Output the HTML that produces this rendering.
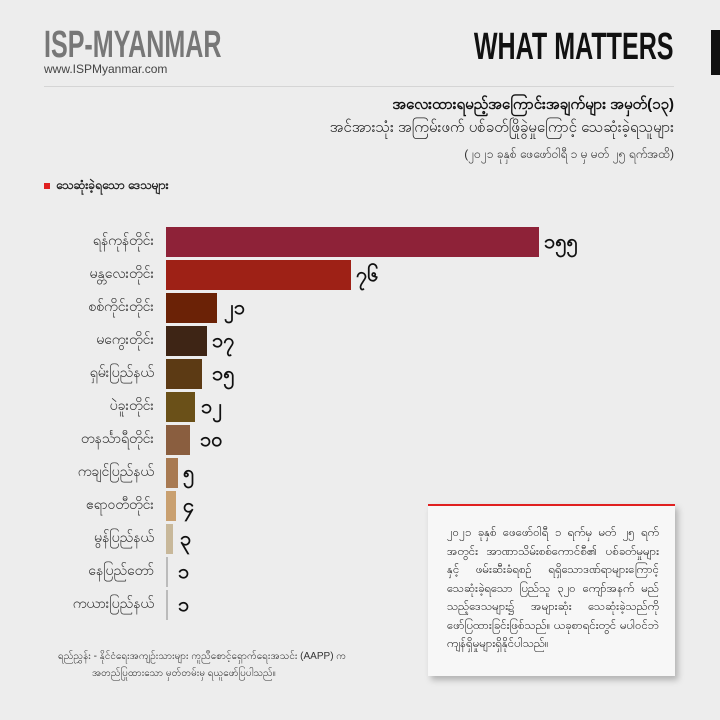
<!DOCTYPE html>
<html><head><meta charset="utf-8"><style>
body{margin:0;width:720px;height:720px;background:#ededed;position:relative;overflow:hidden;font-family:"Liberation Sans","Noto Sans CJK SC",sans-serif;color:#222}
.a{position:absolute}
.lbl{position:absolute;right:566px;font-size:14px;color:#333;text-align:right;white-space:nowrap}
.bar{position:absolute;left:166px;height:30px}
.val{position:absolute;font-size:20px;font-weight:bold;color:#111}
</style></head><body>
<div class="a" style="left:44px;top:24px;font-size:38px;font-weight:bold;color:#777;transform:scaleX(0.66);transform-origin:left">ISP-MYANMAR</div>
<div class="a" style="left:44px;top:62px;font-size:12px;color:#444">www.ISPMyanmar.com</div>
<div class="a" style="right:46px;top:26px;font-size:38px;font-weight:bold;color:#111;transform:scaleX(0.66);transform-origin:right">WHAT MATTERS</div>
<div class="a" style="left:711px;top:30px;width:9px;height:45px;background:#111"></div>
<div class="a" style="left:44px;top:86px;width:630px;height:1px;background:#d5d5d5"></div>
<div class="a" style="right:46px;top:95px;font-size:15px;font-weight:bold;color:#111">အလေးထားရမည့်အကြောင်းအချက်များ အမှတ်(၁၃)</div>
<div class="a" style="right:46px;top:118px;font-size:15px;color:#222">အင်အားသုံး အကြမ်းဖက် ပစ်ခတ်ဖြိုခွဲမှုကြောင့် သေဆုံးခဲ့ရသူများ</div>
<div class="a" style="right:46px;top:146px;font-size:12px;color:#333">(၂၀၂၁ ခုနှစ် ဖေဖော်ဝါရီ ၁ မှ မတ် ၂၅ ရက်အထိ)</div>
<div class="a" style="left:44px;top:183px;width:6px;height:6px;background:#e02020"></div>
<div class="a" style="left:56px;top:177px;font-size:12px;font-weight:bold">သေဆုံးခဲ့ရသော ဒေသများ</div>

<div class="lbl" style="top:231px">ရန်ကုန်တိုင်း</div><div class="bar" style="top:227px;width:373px;background:#8e2238"></div><div class="val" style="left:544px;top:228px">၁၅၅</div>
<div class="lbl" style="top:264px">မန္တလေးတိုင်း</div><div class="bar" style="top:260px;width:185px;background:#9e2116"></div><div class="val" style="left:356px;top:261px">၇၆</div>
<div class="lbl" style="top:297px">စစ်ကိုင်းတိုင်း</div><div class="bar" style="top:293px;width:51px;background:#6b2206"></div><div class="val" style="left:224px;top:294px">၂၁</div>
<div class="lbl" style="top:330px">မကွေးတိုင်း</div><div class="bar" style="top:326px;width:41px;background:#3e2515"></div><div class="val" style="left:212px;top:327px">၁၇</div>
<div class="lbl" style="top:363px">ရှမ်းပြည်နယ်</div><div class="bar" style="top:359px;width:36px;background:#5c3a14"></div><div class="val" style="left:212px;top:360px">၁၅</div>
<div class="lbl" style="top:396px">ပဲခူးတိုင်း</div><div class="bar" style="top:392px;width:29px;background:#6a5018"></div><div class="val" style="left:201px;top:393px">၁၂</div>
<div class="lbl" style="top:429px">တနင်္သာရီတိုင်း</div><div class="bar" style="top:425px;width:24px;background:#8a5e3f"></div><div class="val" style="left:200px;top:426px">၁၀</div>
<div class="lbl" style="top:462px">ကချင်ပြည်နယ်</div><div class="bar" style="top:458px;width:12px;background:#a87a52"></div><div class="val" style="left:183px;top:459px">၅</div>
<div class="lbl" style="top:495px">ဧရာဝတီတိုင်း</div><div class="bar" style="top:491px;width:10px;background:#c9a070"></div><div class="val" style="left:183px;top:492px">၄</div>
<div class="lbl" style="top:528px">မွန်ပြည်နယ်</div><div class="bar" style="top:524px;width:7px;background:#c8b89a"></div><div class="val" style="left:180px;top:525px">၃</div>
<div class="lbl" style="top:561px">နေပြည်တော်</div><div class="bar" style="top:557px;width:2px;background:#bbb"></div><div class="val" style="left:178px;top:558px">၁</div>
<div class="lbl" style="top:594px">ကယားပြည်နယ်</div><div class="bar" style="top:590px;width:2px;background:#bbb"></div><div class="val" style="left:178px;top:591px">၁</div>

<div class="a" style="left:58px;top:648px;font-size:10px;color:#333;line-height:17px">ရည်ညွှန်း - နိုင်ငံရေးအကျဉ်းသားများ ကူညီစောင့်ရှောက်ရေးအသင်း (AAPP) က<br><span style="padding-left:34px">အတည်ပြုထားသော မှတ်တမ်းမှ ရယူဖော်ပြပါသည်။</span></div>

<div class="a" style="left:428px;top:504px;width:247px;height:170px;background:#f7f7f7;border-top:2px solid #e02020;box-shadow:3px 4px 6px rgba(0,0,0,0.25)"></div>
<div class="a" style="left:447px;top:524px;width:212px;font-size:11.5px;line-height:18.5px;color:#222;text-align:justify">၂၀၂၁ ခုနှစ် ဖေဖော်ဝါရီ ၁ ရက်မှ မတ် ၂၅ ရက် အတွင်း အာဏာသိမ်းစစ်ကောင်စီ၏ ပစ်ခတ်မှုများနှင့် ဖမ်းဆီးခံရစဉ် ရရှိသောဒဏ်ရာများကြောင့် သေဆုံးခဲ့ရသော ပြည်သူ ၃၂၀ ကျော်အနက် မည်သည့်ဒေသများ၌ အများဆုံး သေဆုံးခဲ့သည်ကို ဖော်ပြထားခြင်းဖြစ်သည်။ ယခုစာရင်းတွင် မပါဝင်ဘဲ ကျန်ရှိမှုများရှိနိုင်ပါသည်။</div>
</body></html>
